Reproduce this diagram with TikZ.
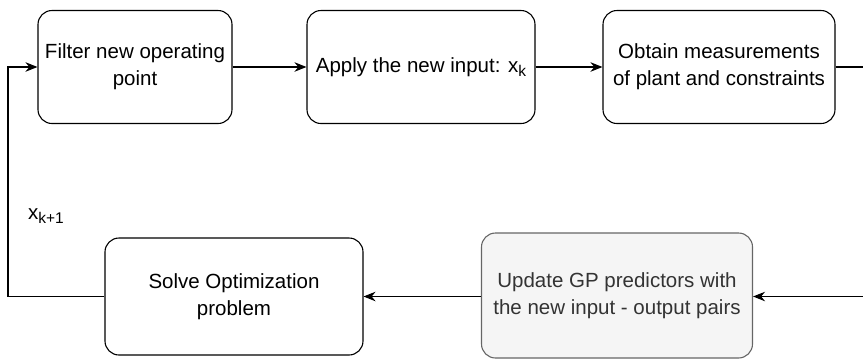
\documentclass[tikz,border=0pt]{standalone}
\usepackage{fontspec}
\setmainfont{Liberation Sans}
\usepackage{xcolor}
\usepackage{tikz}
\usetikzlibrary{arrows.meta,positioning}

\definecolor{gpfill}{HTML}{F5F5F5}
\definecolor{gpline}{HTML}{666666}
\definecolor{gptext}{HTML}{333333}

\newcommand{\lowidx}[1]{\raisebox{-0.35ex}{\fontsize{15.5}{15.5}\selectfont #1}}

\tikzset{
    stepbox/.style={draw, line width=1.1pt, rounded corners=14pt, align=center,
        font=\fontsize{20.5}{27}\selectfont, inner sep=1pt},
    flow/.style={-{Stealth[length=12pt,width=9.5pt]}, line width=1.1pt}
}

\begin{document}
\begin{tikzpicture}[x=1pt, y=-1pt]
    \useasboundingbox (0,0) rectangle (863,360);

    % Top row
    \node[stepbox, minimum width=194pt, minimum height=113pt] (filter) at (135,67) {Filter new operating\\point};
    \node[stepbox, minimum width=228pt, minimum height=113pt] (apply) at (421,67) {Apply the new input: x\lowidx{k}};
    \node[stepbox, minimum width=232pt, minimum height=113pt] (measure) at (719,67) {Obtain measurements\\of plant and constraints};

    % Bottom row
    \node[stepbox, minimum width=258pt, minimum height=117pt] (solve) at (234,296.5) {Solve Optimization\\problem};
    \node[stepbox, draw=gpline, fill=gpfill, text=gptext, minimum width=271pt, minimum height=125pt] (update) at (617,295.5) {Update GP predictors with\\the new input - output pairs};

    % Free ends at the right border
    \coordinate (outR) at (863,67);
    \coordinate (inR) at (863,296.5);
    \coordinate (loopL) at (8,296.5);

    % Connectors
    \draw[flow] (filter.east) -- (apply.west);
    \draw[flow] (apply.east) -- (measure.west);
    \draw[line width=1.1pt] (measure.east) -- (outR);
    \draw[flow] (inR) -- (update.east |- inR);
    \draw[flow] (update.west |- solve.east) -- (solve.east);
    \draw[flow] (solve.west) -- (loopL) |- (filter.west);

    % Label
    \node[font=\fontsize{20.5}{27}\selectfont, inner sep=0pt] (xnext) at (46,216) {x\lowidx{k+1}};
\end{tikzpicture}
\end{document}
